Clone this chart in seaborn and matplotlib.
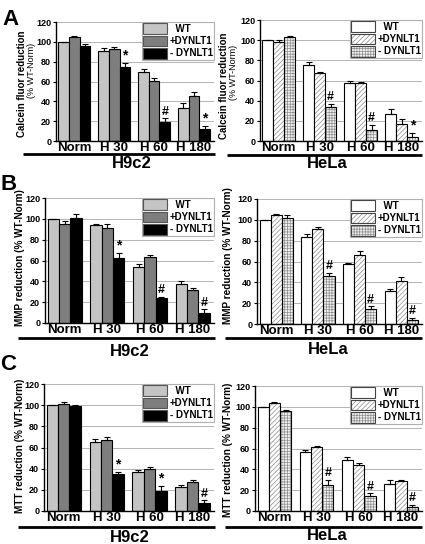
import numpy as np
import pandas as pd
import seaborn as sns
import matplotlib
matplotlib.use("Agg")
import matplotlib.pyplot as plt
from matplotlib.patches import Patch, Rectangle
from matplotlib.lines import Line2D
from matplotlib.legend_handler import HandlerTuple

# ---------------- data ----------------
groups = ["Norm", "H 30", "H 60", "H 180"]
series = ["WT", "+DYNLT1", "- DYNLT1"]
legend_labels = ["  WT", "+DYNLT1", "- DYNLT1"]

# Panel A - Calcein
a_h9c2_wt = [100, 91, 70, 33]
a_h9c2_plus = [105, 93, 61, 45]
a_h9c2_minus = [96, 75, 19, 12]
a_h9c2_wt_err = [0, 3, 3, 5]
a_h9c2_plus_err = [1, 2, 3, 4]
a_h9c2_minus_err = [2, 4, 4, 3]
a_h9c2_marks = ["", "*", "#", "*"]

a_hela_wt = [100, 75, 58, 27]
a_hela_plus = [98, 67, 58, 17]
a_hela_minus = [103, 34, 11, 4]
a_hela_wt_err = [0, 3, 2, 5]
a_hela_plus_err = [2, 1, 1, 5]
a_hela_minus_err = [1, 3, 5, 4]
a_hela_marks = ["", "#", "#", "*"]

# Panel B - MMP
b_h9c2_wt = [100, 94, 54, 37]
b_h9c2_plus = [95, 91, 63, 32]
b_h9c2_minus = [101, 62, 24, 10]
b_h9c2_wt_err = [0, 1, 3, 3]
b_h9c2_plus_err = [3, 4, 2, 2]
b_h9c2_minus_err = [4, 5, 1, 3]
b_h9c2_marks = ["", "*", "#", "#"]

b_hela_wt = [100, 84, 58, 32]
b_hela_plus = [105, 91, 66, 41]
b_hela_minus = [102, 46, 14, 4]
b_hela_wt_err = [0, 2, 1, 2]
b_hela_plus_err = [1, 2, 4, 4]
b_hela_minus_err = [3, 3, 3, 2]
b_hela_marks = ["", "#", "#", "#"]

# Panel C - MTT
c_h9c2_wt = [100, 65, 37, 23]
c_h9c2_plus = [101, 67, 40, 27]
c_h9c2_minus = [99, 35, 19, 8]
c_h9c2_wt_err = [0, 3, 2, 2]
c_h9c2_plus_err = [2, 3, 2, 2]
c_h9c2_minus_err = [1, 2, 5, 2]
c_h9c2_marks = ["", "*", "*", "#"]

c_hela_wt = [100, 57, 49, 26]
c_hela_plus = [104, 61, 44, 29]
c_hela_minus = [96, 25, 14, 4]
c_hela_wt_err = [0, 2, 3, 4]
c_hela_plus_err = [1, 1, 2, 1]
c_hela_minus_err = [1, 5, 3, 2]
c_hela_marks = ["", "#", "#", "#"]

ylabel_a1 = "Calcein fluor reduction"
ylabel_a2 = "(% WT-Norm)"
ylabel_b = "MMP reduction (% WT-Norm)"
ylabel_c = "MTT reduction (% WT-Norm)"

# ---------------- style ----------------
plt.rcParams["font.family"] = ["Liberation Sans", "DejaVu Sans"]
plt.rcParams["font.weight"] = "bold"
plt.rcParams["axes.labelweight"] = "bold"
plt.rcParams["hatch.linewidth"] = 0.5

W, H = 425, 544
fig = plt.figure(figsize=(W / 100, H / 100), dpi=100)


def px_axes(l, t, r, b):
    return fig.add_axes([l / W, 1 - b / H, (r - l) / W, (b - t) / H])


def ftext(x, y, s, **kw):
    return fig.text(x / W, 1 - y / H, s, **kw)


def hline(x1, x2, y, lw=2.0):
    fig.add_artist(Line2D([x1 / W, x2 / W], [1 - y / H, 1 - y / H],
                          color="black", lw=lw, solid_capstyle="butt"))


h9c2_colors = ["#c4c4c4", "#7e7e7e", "#000000"]
hela_colors = ["#ffffff", "#ffffff", "#f2f2f2"]
hela_hatches = [None, "///////", "++++++"]
hatch_color = "#8c8c8c"


def draw_panel(ax, vals, errs, marks, kind):
    rows = []
    for s, v in zip(series, vals):
        for g, val in zip(groups, v):
            rows.append({"group": g, "series": s, "value": val})
    df = pd.DataFrame(rows)
    palette = h9c2_colors if kind == "h9c2" else hela_colors
    sns.barplot(data=df, x="group", y="value", hue="series", order=groups,
                hue_order=series, palette=palette, saturation=1,
                edgecolor="black", linewidth=0.8, width=0.8, errorbar=None,
                legend=False, ax=ax, zorder=2)
    bar_conts = list(ax.containers)
    if kind == "hela":
        for i, cont in enumerate(bar_conts):
            if hela_hatches[i]:
                for p in cont:
                    p.set_hatch(hela_hatches[i])
                    p.set_edgecolor(hatch_color)
                    p.set_linewidth(0)
                    ax.add_patch(Rectangle(p.get_xy(), p.get_width(), p.get_height(),
                                           fill=False, edgecolor="black", lw=0.8, zorder=2.2))
    for i, cont in enumerate(bar_conts):
        xs = [p.get_x() + p.get_width() / 2 for p in cont]
        hs = [p.get_height() for p in cont]
        e = errs[i]
        ax.errorbar(xs, hs, yerr=[np.zeros(len(e)), e], fmt="none", ecolor="black",
                    elinewidth=0.8, capsize=2.2, capthick=0.8, zorder=3)
        if i == 2:
            for x, h, ee, m in zip(xs, hs, e, marks):
                if m:
                    ax.text(x, h + ee + 0.5, m, ha="center", va="bottom",
                            fontsize=10 if m == "*" else 9, fontweight="bold", zorder=4)
    ax.set_ylim(0, 120)
    ax.set_xlim(-0.46, 3.5)
    ax.set_yticks(range(0, 121, 20))
    ax.grid(axis="y", color="#a8a8a8", lw=0.6)
    ax.set_axisbelow(True)
    for sp in ["top", "right"]:
        ax.spines[sp].set_visible(False)
    for sp in ["left", "bottom"]:
        ax.spines[sp].set_linewidth(1.0)
        ax.spines[sp].set_color("black")
    ax.set_xlabel("")
    ax.set_ylabel("")
    ax.tick_params(axis="x", length=0, pad=1, labelsize=9.5)
    ax.tick_params(axis="y", length=2.5, width=0.8, pad=1, labelsize=6.5)
    for lbl in ax.get_xticklabels() + ax.get_yticklabels():
        lbl.set_fontweight("bold")

    # legend
    handles = []
    for i in range(3):
        if kind == "h9c2":
            handles.append(Patch(facecolor=h9c2_colors[i], edgecolor="#555555", lw=0.8))
        else:
            if hela_hatches[i]:
                handles.append((Patch(facecolor=hela_colors[i], edgecolor=hatch_color,
                                      hatch=hela_hatches[i], lw=0),
                                Patch(fill=False, edgecolor="#444444", lw=0.8)))
            else:
                handles.append(Patch(facecolor=hela_colors[i], edgecolor="#444444", lw=0.8))
    leg = ax.legend(handles, legend_labels, loc="upper right", bbox_to_anchor=(1.0, 1.0),
                    borderaxespad=0, fontsize=7, handlelength=2.4, handleheight=1.35,
                    labelspacing=0.12, handletextpad=0.3, borderpad=0.15,
                    fancybox=False, framealpha=1, edgecolor="#b0b0b0",
                    handler_map={tuple: HandlerTuple(ndivide=1, pad=0)})
    leg.get_frame().set_linewidth(0.8)
    for t in leg.get_texts():
        t.set_fontweight("bold")
    leg.set_zorder(5)


panels = [
    ((56, 22, 214, 141), [a_h9c2_wt, a_h9c2_plus, a_h9c2_minus],
     [a_h9c2_wt_err, a_h9c2_plus_err, a_h9c2_minus_err], a_h9c2_marks, "h9c2"),
    ((260, 20, 422, 141), [a_hela_wt, a_hela_plus, a_hela_minus],
     [a_hela_wt_err, a_hela_plus_err, a_hela_minus_err], a_hela_marks, "hela"),
    ((45, 198, 214, 323), [b_h9c2_wt, b_h9c2_plus, b_h9c2_minus],
     [b_h9c2_wt_err, b_h9c2_plus_err, b_h9c2_minus_err], b_h9c2_marks, "h9c2"),
    ((257, 199, 422, 324), [b_hela_wt, b_hela_plus, b_hela_minus],
     [b_hela_wt_err, b_hela_plus_err, b_hela_minus_err], b_hela_marks, "hela"),
    ((44, 384, 214, 511), [c_h9c2_wt, c_h9c2_plus, c_h9c2_minus],
     [c_h9c2_wt_err, c_h9c2_plus_err, c_h9c2_minus_err], c_h9c2_marks, "h9c2"),
    ((255, 386, 422, 511), [c_hela_wt, c_hela_plus, c_hela_minus],
     [c_hela_wt_err, c_hela_plus_err, c_hela_minus_err], c_hela_marks, "hela"),
]

for box, vals, errs, marks, kind in panels:
    ax = px_axes(*box)
    draw_panel(ax, vals, errs, marks, kind)

# y labels
ytxt = dict(rotation=90, ha="center", va="center", fontsize=7.2, fontweight="bold")
ytxt_a1 = dict(rotation=90, ha="center", va="center", fontsize=7, fontweight="bold")
ytxt_a2 = dict(rotation=90, ha="center", va="center", fontsize=6.5, fontweight="normal")
ftext(22, 84, ylabel_a1, **ytxt_a1)
ftext(31, 70, ylabel_a2, **ytxt_a2)
ftext(224, 86, ylabel_a1, **ytxt_a1)
ftext(233, 72, ylabel_a2, **ytxt_a2)
ftext(20, 258, ylabel_b, **ytxt)
ftext(228, 256, ylabel_b, **ytxt)
ftext(20, 446, ylabel_c, **ytxt)
ftext(228, 450, ylabel_c, **ytxt)

# underlines and cell-line labels
hline(23, 215, 154)
hline(227, 422, 155)
hline(18, 215, 338)
hline(225, 422, 338)
hline(18, 215, 527)
hline(225, 422, 527)

ctxt = dict(ha="center", va="center", fontsize=12, fontweight="bold")
ftext(132, 164, "H9c2", **ctxt)
ftext(327, 164, "HeLa", **ctxt)
ftext(130, 351, "H9c2", **ctxt)
ftext(328, 349, "HeLa", **ctxt)
ftext(130, 537, "H9c2", **ctxt)
ftext(327, 535, "HeLa", **ctxt)

# panel letters
ltxt = dict(ha="left", va="baseline", fontsize=16, fontweight="bold")
ftext(2, 25, "A", **ltxt)
ftext(0, 190, "B", **ltxt)
ftext(0, 370, "C", **ltxt)

fig.savefig("out.png", dpi=100)
